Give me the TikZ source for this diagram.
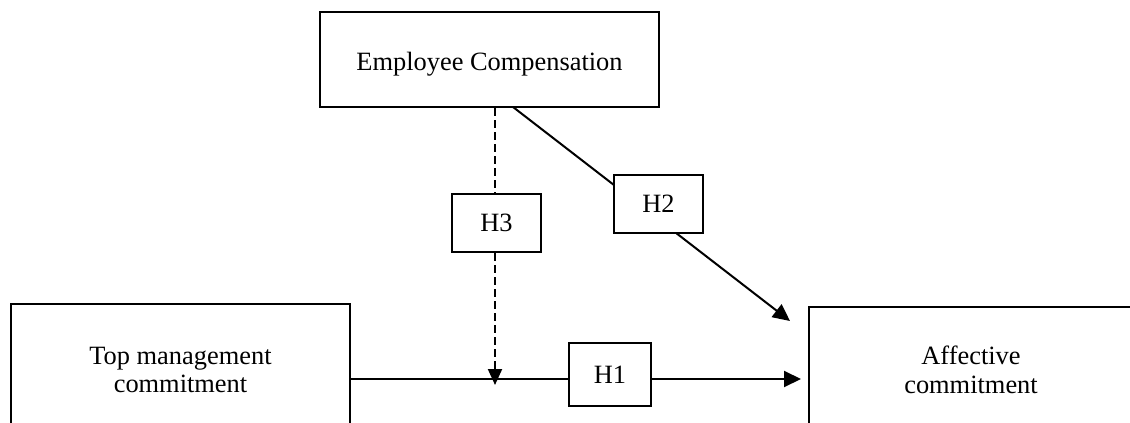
\documentclass[tikz,border=0pt]{standalone}
\usepackage{fontspec}
\setmainfont{Liberation Serif}
\usetikzlibrary{arrows.meta,backgrounds}
\begin{document}
\begin{tikzpicture}[x=0.5pt,y=-0.5pt,
  box/.style={draw,line width=1pt,fill=white,inner sep=0pt,align=center,
    font=\fontsize{13.2}{14.4}\selectfont},
  link/.style={line width=1pt},
  arr/.style={line width=1pt,-{Triangle[length=8.5pt,width=8pt]}},
  dashlink/.style={line width=1pt,dash pattern=on 4pt off 2pt}]
\useasboundingbox (0,0) rectangle (1130,423);

% constructs
\node[box,minimum width=169.5pt,minimum height=47.5pt] (ec) at (489.5,59.5)
  {\raisebox{-2.5pt}[\height][\depth]{Employee Compensation}};
\node[box,minimum width=169.5pt,minimum height=66pt] (tmc) at (180.5,370) {Top management\\commitment};
\node[box,minimum width=162pt,minimum height=63pt] (ac) at (971,370) {Affective\\commitment};

% hypothesis labels
\node[box,minimum width=44.5pt,minimum height=29pt] (h3) at (496.5,223) {H3};
\node[box,minimum width=44.5pt,minimum height=29pt] (h2) at (658.5,204) {H2};
\node[box,minimum width=41pt,minimum height=31.5pt] (h1) at (610,374.5) {H1};

% connector end points
\coordinate (h2start) at (513,107);
\coordinate (h2tip) at (790,321);
\coordinate (h3tip) at (495,385);
\coordinate (h1row) at (0,379);

\begin{scope}[on background layer]
  % H2: compensation -> affective commitment
  \draw[arr] (h2start) -- (h2tip);
\end{scope}

% H3: moderating effect on the H1 path
\draw[dashlink] (ec.south -| h3tip) -- (h3.north -| h3tip);
\draw[dashlink,-{Triangle[length=8pt,width=7pt]}] (h3.south -| h3tip) -- (h3tip);

% H1: top management commitment -> affective commitment
\draw[link] (tmc.east |- h1row) -- (h1.west |- h1row);
\draw[arr,shorten >=3.5pt] (h1.east |- h1row) -- (ac.west |- h1row);
\end{tikzpicture}
\end{document}
